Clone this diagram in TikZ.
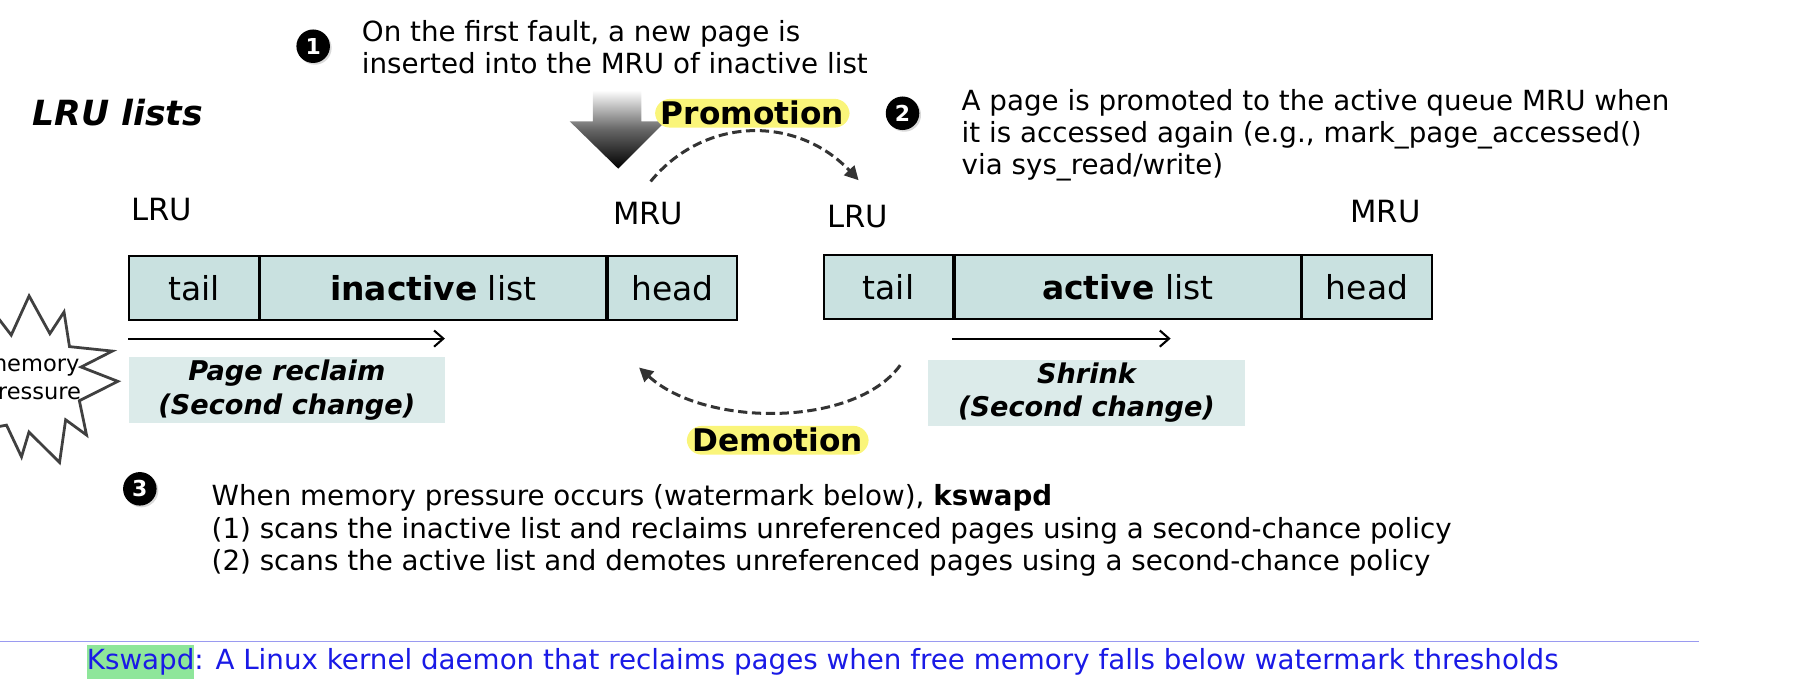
\documentclass[tikz,border=0pt]{standalone}
\usepackage{fontspec}
\setmainfont{DejaVu Sans}
\usetikzlibrary{arrows.meta,shadows}
\definecolor{barfill}{HTML}{C9E1E0}
\definecolor{boxfill}{HTML}{DCEBEA}
\definecolor{hl}{HTML}{FAF57A}
\definecolor{foot}{HTML}{1A1AE6}
\definecolor{greenhl}{HTML}{8EE69A}
\definecolor{rule}{HTML}{9A9AF0}
\begin{document}
\begin{tikzpicture}[x=1pt,y=-1pt,
  txt/.style={font=\fontsize{24}{28}\selectfont, anchor=west, align=left, inner sep=0pt},
  lbl/.style={font=\fontsize{26.5}{30}\selectfont, inner sep=0pt},
  cell/.style={draw=black, line width=1.6pt, fill=barfill, minimum height=55pt, inner sep=0pt, font=\fontsize{28.5}{32}\selectfont},
  bullet/.style={circle, fill=black, text=white, font=\bfseries\fontsize{19}{19}\selectfont, inner sep=0pt, minimum size=29pt, drop shadow={opacity=0.3, shadow xshift=1.5pt, shadow yshift=-1.5pt}},
  hlbox/.style={fill=hl, rounded corners=13pt, font=\bfseries\fontsize{27}{30}\selectfont, inner xsep=5pt, inner ysep=2pt},
  sbox/.style={fill=boxfill, inner sep=0pt, align=center, font=\bfseries\itshape\fontsize{23.5}{29}\selectfont},
  dasharr/.style={line width=2.6pt, draw=black!80, dash pattern=on 8pt off 4pt, -{Triangle[length=12pt,width=12pt]}},
  thinarr/.style={line width=1.8pt, -{Straight Barb[length=8pt,width=14pt]}}]
\useasboundingbox (0,0) rectangle (1568,589);

% bullet 1 and text
\node[bullet] (b1) at (271,40) {1};
\node[txt] (t1) at (313,41) {On the first fault, a new page is\\inserted into the MRU of inactive list};
\node[font=\bfseries\itshape\fontsize{30}{34}\selectfont, anchor=west, inner sep=0pt] (title) at (28,97) {LRU lists};

% gradient arrow
\shade[top color=white, bottom color=black, middle color=black!60]
  (513,78) -- (555,78) -- (555,105) -- (576,105) -- (535,146) -- (493,105) -- (513,105) -- cycle;

% promotion
\node[hlbox] (promo) at (651,98) {Promotion};
\coordinate (p1) at (563,157);
\coordinate (p2) at (743,156);
\draw[dasharr] (p1) .. controls (610,100) and (690,100) .. (p2);

% bullet 2
\node[bullet] (b2) at (781,98) {2};
\node[txt] (t2) at (832,117) {A page is promoted to the active queue MRU when\\it is accessed again (e.g., mark\_page\_accessed()\\via sys\_read/write)};

% labels
\node[lbl] (lru1) at (140,181) {LRU};
\node[lbl] (mru1) at (561,185) {MRU};
\node[lbl] (lru2) at (742,187) {LRU};
\node[lbl] (mru2) at (1199,183) {MRU};

% inactive bar
\node[cell, minimum width=112pt, anchor=north west] (it) at (111,221) {tail};
\node[cell, minimum width=299pt, anchor=west] (il) at (it.east) {\textbf{inactive} list};
\node[cell, minimum width=112pt, anchor=west] (ih) at (il.east) {head};
% active bar
\node[cell, minimum width=112pt, anchor=north west] (at) at (712,220) {tail};
\node[cell, minimum width=299pt, anchor=west] (al) at (at.east) {\textbf{active} list};
\node[cell, minimum width=112pt, anchor=west] (ah) at (al.east) {head};

% arrows below bars
\coordinate (ia1) at (111,293);
\coordinate (ia2) at (385,293);
\draw[thinarr] (ia1) -- (ia2);
\coordinate (aa1) at (824,293);
\coordinate (aa2) at (1013,293);
\draw[thinarr] (aa1) -- (aa2);

% boxes
\node[sbox, minimum width=274pt, minimum height=57pt, anchor=north west] (pr) at (111,309) {Page reclaim\\(Second change)};
\node[sbox, minimum width=274pt, minimum height=57pt, anchor=north west] (sh) at (803,311) {Shrink\\(Second change)};

% demotion
\coordinate (d1) at (779,316);
\coordinate (d2) at (553,318);
\draw[dasharr] (d1) .. controls (740,370) and (610,370) .. (d2);
\node[hlbox] (demo) at (673,381) {Demotion};

% starburst
\begin{scope}[shift={(28,330)}]
\draw[line width=2.4pt, draw=black!75, fill=white]
  (0:74) \foreach \i in {1,...,21} { -- ({\i*360/22+6*mod(\i,3)}:{ifthenelse(mod(\i,2)==0,74-4*mod(\i,4),44)}) } -- cycle;
\node[font=\fontsize{19.5}{24}\selectfont, align=center, inner sep=0pt] (mp) at (0,0) {memory\\pressure};
\end{scope}

% bullet 3
\node[bullet] (b3) at (121,423) {3};
\node[txt] (t3) at (183,459) {When memory pressure occurs (watermark below), \textbf{kswapd}\\(1) scans the inactive list and reclaims unreferenced pages using a second-chance policy\\(2) scans the active list and demotes unreferenced pages using a second-chance policy};

% footer
\coordinate (r1) at (0,555);
\coordinate (r2) at (1470,555);
\draw[rule, line width=1pt] (r1) -- (r2);
\node[txt, text=foot] (ft) at (75,573) {\colorbox{greenhl}{\hspace{-3pt}Kswapd\hspace{-3pt}}: A Linux kernel daemon that reclaims pages when free memory falls below watermark thresholds};
\end{tikzpicture}
\end{document}
